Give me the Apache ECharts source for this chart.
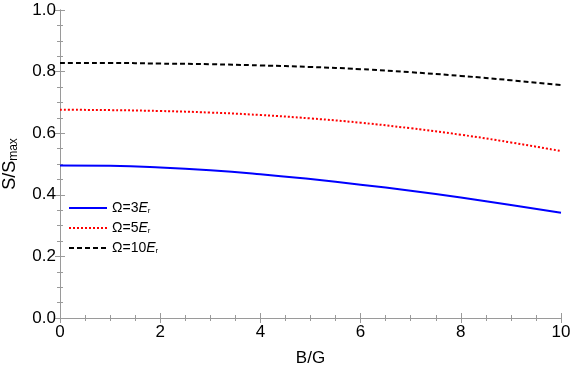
<!DOCTYPE html>
<html>
<head>
<meta charset="utf-8">
<script src="https://cdn.jsdelivr.net/npm/echarts@6/dist/echarts.min.js"></script>
<style>
  html, body { margin: 0; padding: 0; background: #fff; }
  #chart { width: 573px; height: 373px; }
</style>
</head>
<body>
<div id="chart"></div>
<script>
// B/G values along the x axis
const xValues = [0, 1, 2, 3, 4, 5, 6, 7, 8, 9, 10];
// S/Smax
const omega3 = [0.495, 0.494, 0.489, 0.480, 0.467, 0.451, 0.433, 0.413, 0.391, 0.367, 0.342];
const omega5 = [0.676, 0.675, 0.672, 0.667, 0.659, 0.648, 0.634, 0.616, 0.595, 0.570, 0.542];
const omega10 = [0.828, 0.828, 0.826, 0.824, 0.820, 0.815, 0.808, 0.798, 0.786, 0.772, 0.756];
const seriesNames = ["Ω=3E_r", "Ω=5E_r", "Ω=10E_r"];

const font = "'Liberation Sans', Arial, sans-serif";
const frameColor = "#9a9a9a";

function pairs(ys) {
  return xValues.map((x, i) => [x, ys[i]]);
}

function frameAxis(extra) {
  return Object.assign({
    type: "value",
    axisLine: { show: true, lineStyle: { color: frameColor, width: 1 } },
    axisTick: { show: true, inside: true, length: 5, lineStyle: { color: frameColor } },
    minorTick: { show: true, splitNumber: 4, length: 3, lineStyle: { color: frameColor } },
    splitLine: { show: false },
    axisLabel: { show: false },
  }, extra);
}

const chart = echarts.init(document.getElementById("chart"));
chart.setOption({
  animation: false,
  backgroundColor: "#fff",
  grid: { left: 60, right: 12, top: 10, bottom: 55, containLabel: false, outerBoundsMode: "none" },
  legend: {
    orient: "vertical",
    left: 63,
    top: 196,
    itemWidth: 38,
    itemHeight: 10,
    itemGap: 6,
    data: seriesNames,
    itemStyle: { opacity: 0 },
    formatter: (name) => {
      const num = name.replace("Ω=", "").replace("E_r", "");
      return "Ω=" + num + "{it|E}{sub|r}";
    },
    textStyle: {
      fontFamily: font,
      fontSize: 14,
      color: "#000",
      rich: {
        it: { fontFamily: font, fontSize: 14, fontStyle: "italic", color: "#000" },
        sub: { fontFamily: font, fontSize: 8, color: "#000", verticalAlign: "bottom", padding: [6, 0, 0, 0] },
      },
    },
  },
  xAxis: [
    frameAxis({
      min: 0, max: 10, interval: 2,
      position: "bottom",
      name: "B/G",
      nameLocation: "middle",
      nameGap: 32,
      nameTextStyle: { fontFamily: font, fontSize: 17, color: "#000" },
      axisLabel: { show: true, fontFamily: font, fontSize: 17, color: "#000", margin: 6 },
    }),
    frameAxis({ min: 0, max: 10, interval: 2, position: "top" }),
  ],
  yAxis: [
    frameAxis({
      min: 0, max: 1, interval: 0.2,
      position: "left",
      name: "{n|S/S}{s|max}",
      nameLocation: "middle",
      nameGap: 40,
      nameRotate: 90,
      nameTextStyle: {
        rich: {
          n: { fontFamily: font, fontSize: 18, color: "#000" },
          s: { fontFamily: font, fontSize: 12, color: "#000", verticalAlign: "bottom", padding: [8, 0, 0, 0] },
        },
      },
      axisLabel: {
        show: true, fontFamily: font, fontSize: 17, color: "#000", margin: 4,
        formatter: (v) => v.toFixed(1),
      },
    }),
    frameAxis({ min: 0, max: 1, interval: 0.2, position: "right" }),
  ],
  series: [
    {
      name: seriesNames[0], type: "line", smooth: true, symbol: "none",
      lineStyle: { color: "#0000ff", width: 2, type: "solid" },
      itemStyle: { color: "#0000ff" },
      data: pairs(omega3),
    },
    {
      name: seriesNames[1], type: "line", smooth: true, symbol: "none",
      lineStyle: { color: "#ff0000", width: 2, type: [2, 2] },
      itemStyle: { color: "#ff0000" },
      data: pairs(omega5),
    },
    {
      name: seriesNames[2], type: "line", smooth: true, symbol: "none",
      lineStyle: { color: "#000000", width: 2, type: [5, 3] },
      itemStyle: { color: "#000000" },
      data: pairs(omega10),
    },
  ],
});
</script>
</body>
</html>
